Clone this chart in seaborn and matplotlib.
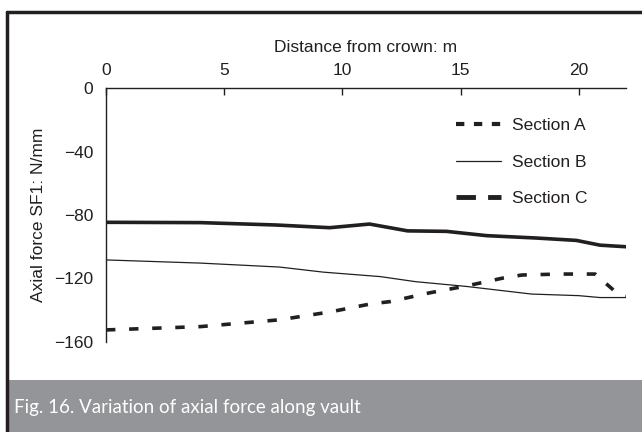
import matplotlib
matplotlib.use('Agg')
import matplotlib.pyplot as plt
from matplotlib.lines import Line2D
from matplotlib.patches import Rectangle
import seaborn as sns
import pandas as pd

# values
x_a = [0, 4, 7.35, 9.5, 11.2, 12, 13.7, 15.25, 16.8, 17.6, 19.2, 20, 20.7, 21.6, 22]
sec_a = [-152.4, -150.3, -146, -141, -136, -134.6, -129, -124.7, -119.7, -117.8, -117.2, -117.2, -117.2, -129, -131]
x_b = [0, 4, 7.35, 9.2, 11.6, 13.1, 15.25, 18, 20, 20.9, 22]
sec_b = [-108.3, -110.3, -112.8, -116, -118.8, -122, -125, -129.8, -130.8, -132, -132]
x_c = [0, 4, 7.2, 9.46, 11.15, 12.76, 14.4, 16.1, 18.2, 19.9, 20.9, 22]
sec_c = [-84.6, -84.8, -86.3, -88, -85.7, -90, -90.3, -93, -94.5, -96, -99, -100]
labels = ['Section A', 'Section B', 'Section C']

sns.set_style('white')
plt.rcParams['font.family'] = ['Liberation Sans', 'DejaVu Sans']
ink = '#231f20'
fs = 12.5

fig = plt.figure(figsize=(6.42, 4.32), dpi=100)
ax = fig.add_axes([106/642, 1-342/432, (626-106)/642, (342-88)/432])

da = pd.DataFrame({'x': x_a, 'y': sec_a})
db = pd.DataFrame({'x': x_b, 'y': sec_b})
dc = pd.DataFrame({'x': x_c, 'y': sec_c})
sns.lineplot(data=da, x='x', y='y', ax=ax, color=ink, lw=2.6, linestyle=(0, (2.6, 3.8)))
sns.lineplot(data=db, x='x', y='y', ax=ax, color=ink, lw=0.9)
sns.lineplot(data=dc, x='x', y='y', ax=ax, color=ink, lw=2.6)

ax.set_xlim(0, 22)
ax.set_ylim(-160, 0)
ax.set_xticks([0, 5, 10, 15, 20])
ax.set_yticks([0, -40, -80, -120, -160])
ax.xaxis.tick_top()
ax.xaxis.set_label_position('top')
ax.set_xlabel('Distance from crown: m', fontsize=fs, color=ink, labelpad=8)
ax.set_ylabel('Axial force SF1: N/mm', fontsize=fs, color=ink, labelpad=6)
ax.tick_params(axis='x', direction='in', length=5, width=1, labelsize=fs, pad=7, colors=ink)
ax.tick_params(axis='y', direction='out', length=5, width=1, labelsize=fs, pad=4, colors=ink)
for s in ['right', 'bottom']:
    ax.spines[s].set_visible(False)
for s in ['top', 'left']:
    ax.spines[s].set_color(ink)
    ax.spines[s].set_linewidth(1)

handles = [
    Line2D([], [], color=ink, lw=3, linestyle=(0, (2, 2.3))),
    Line2D([], [], color=ink, lw=0.9),
    Line2D([], [], color=ink, lw=3.5, linestyle=(0, (4, 2.5))),
]
ax.legend(handles, labels, loc='upper left', bbox_to_anchor=(0.643, 0.945), frameon=False,
          fontsize=fs, handlelength=2.6, labelspacing=1.25, handletextpad=0.63, labelcolor=ink)

# frame and caption band
fig.add_artist(Line2D([7/642, 7/642], [0, 1-12/432], color=ink, lw=2.5, transform=fig.transFigure))
fig.add_artist(Line2D([7/642, 1], [1-12/432, 1-12/432], color=ink, lw=2.5, transform=fig.transFigure))
fig.add_artist(Rectangle((8/642, 0), 1, 52/432, transform=fig.transFigure, color='#939598', lw=0))
fig.text(14/642, 25/432, 'Fig. 16. Variation of axial force along vault', color='white',
         fontsize=13.5, family=['Lato', 'DejaVu Sans'], va='center', ha='left')

fig.savefig('out.png', dpi=100)
